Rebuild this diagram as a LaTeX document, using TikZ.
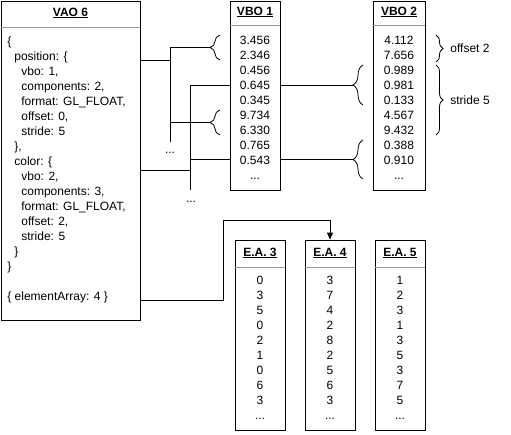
\documentclass[tikz,border=0pt]{standalone}
\usepackage{fontspec}
\setmainfont{Liberation Sans}
\usetikzlibrary{decorations.pathreplacing,arrows.meta}
\definecolor{sepgray}{rgb}{0.6,0.6,0.6}
\tikzset{
  panel/.style={draw, inner sep=0pt},
  head/.style={font=\fontsize{12}{15}\selectfont\bfseries, inner sep=0pt},
  sepline/.style={draw=sepgray},
  vals/.style={anchor=north, align=center, inner sep=0pt},
  lbrace/.style={decorate, decoration={brace, amplitude=10pt}},
  rbrace/.style={decorate, decoration={brace, amplitude=7pt}}
}

\begin{document}
\begin{tikzpicture}[x=1pt,y=-1pt,line width=0.8pt,font=\fontsize{12}{15}\selectfont]
\useasboundingbox (0,0) rectangle (511,434);

% VAO
\node[panel, minimum width=139pt, minimum height=319pt] (vao) at (70.5,160.5) {};
\node[head] (vaot) at (vao.north |- 0,13) {\underline{VAO 6}};
\draw[sepline] (vao.west |- 0,27) -- (vao.east |- 0,27);
\node[anchor=north west, align=left, inner sep=0pt] (vaotxt) at (7,36) {\{\\
\hspace{7pt}position: \{\\
\hspace{14pt}vbo: 1,\\
\hspace{14pt}components: 2,\\
\hspace{14pt}format: GL\_FLOAT,\\
\hspace{14pt}offset: 0,\\
\hspace{14pt}stride: 5\\
\hspace{7pt}\},\\
\hspace{7pt}color: \{\\
\hspace{14pt}vbo: 2,\\
\hspace{14pt}components: 3,\\
\hspace{14pt}format: GL\_FLOAT,\\
\hspace{14pt}offset: 2,\\
\hspace{14pt}stride: 5\\
\hspace{7pt}\}\\
\}};
\node[anchor=west, inner sep=0pt] (vaoea) at (7,297) {\{ elementArray: 4 \}};

% VBO 1
\node[panel, minimum width=50pt, minimum height=189pt] (vbo1) at (255,95.5) {};
\node[head] (vbo1t) at (vbo1.north |- 0,12) {\underline{VBO 1}};
\draw[sepline] (vbo1.west |- 0,25) -- (vbo1.east |- 0,25);
\node[vals] (vbo1v) at (vbo1.north |- 0,36) {3.456\\2.346\\0.456\\0.645\\0.345\\9.734\\6.330\\0.765\\0.543\\...};

% VBO 2
\node[panel, minimum width=52pt, minimum height=189pt] (vbo2) at (399,95.5) {};
\node[head] (vbo2t) at (vbo2.north |- 0,12) {\underline{VBO 2}};
\draw[sepline] (vbo2.west |- 0,25) -- (vbo2.east |- 0,25);
\node[vals] (vbo2v) at (vbo2.north |- 0,36) {4.112\\7.656\\0.989\\0.981\\0.133\\4.567\\9.432\\0.388\\0.910\\...};

% position -> VBO 1
\coordinate (posJ) at (170,60);
\coordinate (posEnd) at (170,142);
\coordinate (b1a) at (210,47.5);
\coordinate (b1b) at (210,122.5);
\draw[lbrace] (220,60) -- (220,35);
\draw[lbrace] (220,135) -- (220,110);
\draw (vao.east |- posJ) -- (posJ);
\draw (posJ |- b1a) -- (posEnd);
\draw (posJ |- b1a) -- (b1a);
\draw (posJ |- b1b) -- (b1b);
\node (posdots) at (170,153) {...};

% color -> VBO 2
\coordinate (colJ) at (190,170);
\coordinate (colEnd) at (190,190);
\coordinate (b2a) at (353,85);
\coordinate (b2b) at (353,159.5);
\draw[lbrace] (363,105) -- (363,65);
\draw[lbrace] (363,179) -- (363,140);
\draw (vao.east |- colJ) -- (colJ);
\draw (colJ |- b2a) -- (colEnd);
\draw (colJ |- b2a) -- (vbo1.west |- b2a);
\draw (colJ |- b2b) -- (vbo1.west |- b2b);
\draw (vbo1.east |- b2a) -- (b2a);
\draw (vbo1.east |- b2b) -- (b2b);
\node (coldots) at (191,202) {...};

% offset and stride
\draw[rbrace] (436,35) -- (436,62);
\node[anchor=west, inner sep=0pt] (offlbl) at (450,48.5) {offset 2};
\draw[rbrace] (436,65) -- (436,135);
\node[anchor=west, inner sep=0pt] (strlbl) at (450,100) {stride 5};

% element arrays
\node[panel, minimum width=50pt, minimum height=190pt] (ea3) at (260,335) {};
\node[head] (ea3t) at (ea3.north |- 0,253) {\underline{E.A. 3}};
\draw[sepline] (ea3.west |- 0,267) -- (ea3.east |- 0,267);
\node[vals] (ea3v) at (ea3.north |- 0,276) {0\\3\\5\\0\\2\\1\\0\\6\\3\\...};

\node[panel, minimum width=50pt, minimum height=190pt] (ea4) at (330,335) {};
\node[head] (ea4t) at (ea4.north |- 0,253) {\underline{E.A. 4}};
\draw[sepline] (ea4.west |- 0,267) -- (ea4.east |- 0,267);
\node[vals] (ea4v) at (ea4.north |- 0,276) {3\\7\\4\\2\\8\\2\\5\\6\\3\\...};

\node[panel, minimum width=50pt, minimum height=190pt] (ea5) at (400,335) {};
\node[head] (ea5t) at (ea5.north |- 0,253) {\underline{E.A. 5}};
\draw[sepline] (ea5.west |- 0,267) -- (ea5.east |- 0,267);
\node[vals] (ea5v) at (ea5.north |- 0,276) {1\\2\\3\\1\\3\\5\\3\\7\\5\\...};

% elementArray -> E.A. 4
\coordinate (eaBend) at (223,220);
\draw[-{Triangle[width=6pt,length=7pt]}] (vao.east |- 0,300) -| (eaBend) -| (ea4.north);
\end{tikzpicture}
\end{document}
